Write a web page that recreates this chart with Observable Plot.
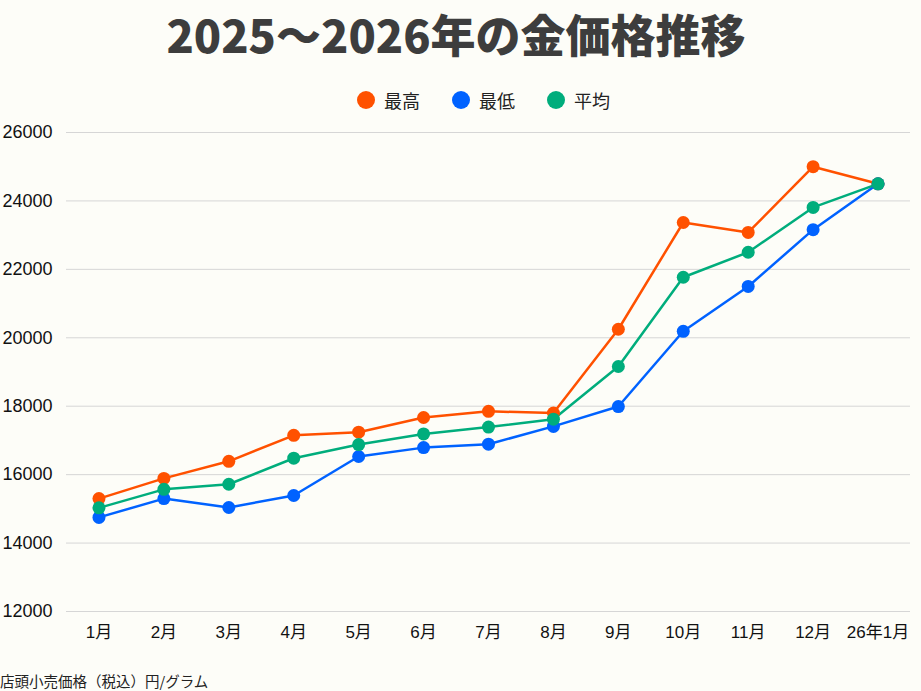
<!DOCTYPE html>
<html>
<head>
<meta charset="utf-8">
<script src="https://cdn.jsdelivr.net/npm/d3@7"></script>
<script src="https://cdn.jsdelivr.net/npm/@observablehq/plot@0.6"></script>
<style>
  html, body { margin: 0; padding: 0; background: #fdfdf8; }
  body { width: 921px; height: 691px; overflow: hidden; font-family: "Liberation Sans", "Noto Sans CJK JP", sans-serif; }
  #title { height: 85px; line-height: 68px; text-align: center; font-family: "Noto Sans CJK JP", sans-serif; font-weight: 900; font-size: 45px; color: #3d3d3d; padding-right: 9px; }
  #legend { height: 30px; display: flex; justify-content: center; align-items: center; gap: 32px; font-family: "Noto Sans CJK JP", sans-serif; font-size: 18px; color: #222; padding-left: 46px; }
  #legend .item { display: flex; align-items: center; gap: 9px; }
  #legend .dot { width: 18px; height: 18px; border-radius: 50%; }
  #chart svg { display: block; overflow: visible; }
  #caption { height: 26px; line-height: 32px; font-family: "Noto Sans CJK JP", sans-serif; font-size: 14.5px; color: #222; padding-left: 0px; }
</style>
</head>
<body>
<div id="title">2025～2026年の金価格推移</div>
<div id="legend"></div>
<div id="chart"></div>
<div id="caption">店頭小売価格（税込）円/グラム</div>
<script>
const months = ["1月","2月","3月","4月","5月","6月","7月","8月","9月","10月","11月","12月","26年1月"];
const seriesNames = ["最高","最低","平均"];
const seriesColors = ["#ff5100","#0062ff","#00ad7c"];
const highValues = [15300,15890,16390,17150,17240,17670,17850,17800,20250,23370,23080,25000,24500];
const lowValues  = [14750,15300,15040,15390,16530,16790,16890,17410,17990,20190,21500,23160,24500];
const avgValues  = [15030,15570,15720,16480,16880,17190,17390,17620,19160,21770,22500,23810,24500];
const yTicks = [12000,14000,16000,18000,20000,22000,24000,26000];

const seriesValues = [highValues, lowValues, avgValues];
const data = [];
seriesNames.forEach((s, i) => {
  months.forEach((m, j) => data.push({series: s, month: m, value: seriesValues[i][j]}));
});

// legend
const legend = document.getElementById("legend");
seriesNames.forEach((s, i) => {
  const item = document.createElement("div");
  item.className = "item";
  const dot = document.createElement("div");
  dot.className = "dot";
  dot.style.background = seriesColors[i];
  const label = document.createElement("span");
  label.textContent = s;
  item.appendChild(dot);
  item.appendChild(label);
  legend.appendChild(item);
});

const chart = Plot.plot({
  width: 921,
  height: 550,
  marginLeft: 66,
  marginRight: 11,
  marginTop: 17,
  marginBottom: 54,
  style: { background: "transparent", fontFamily: "'Liberation Sans', 'Noto Sans CJK JP', sans-serif", color: "#111" },
  x: { type: "point", domain: months, padding: 0.5, round: false, label: null },
  y: { domain: [12000, 26000], label: null },
  color: { domain: seriesNames, range: seriesColors },
  marks: [
    Plot.gridY(yTicks, { stroke: "#d6d6d6", strokeOpacity: 1, strokeWidth: 1 }),
    Plot.axisY(yTicks, { tickSize: 0, tickPadding: 14, fontSize: 18, tickFormat: d3.format("d"), label: null }),
    Plot.axisX({ tickSize: 0, tickPadding: 14, fontSize: 17, label: null }),
    Plot.line(data, { x: "month", y: "value", stroke: "series", strokeWidth: 2.5, curve: "linear" }),
    Plot.dot(data, { x: "month", y: "value", fill: "series", r: 6.5, stroke: "none" })
  ]
});
document.getElementById("chart").appendChild(chart);
</script>
</body>
</html>
